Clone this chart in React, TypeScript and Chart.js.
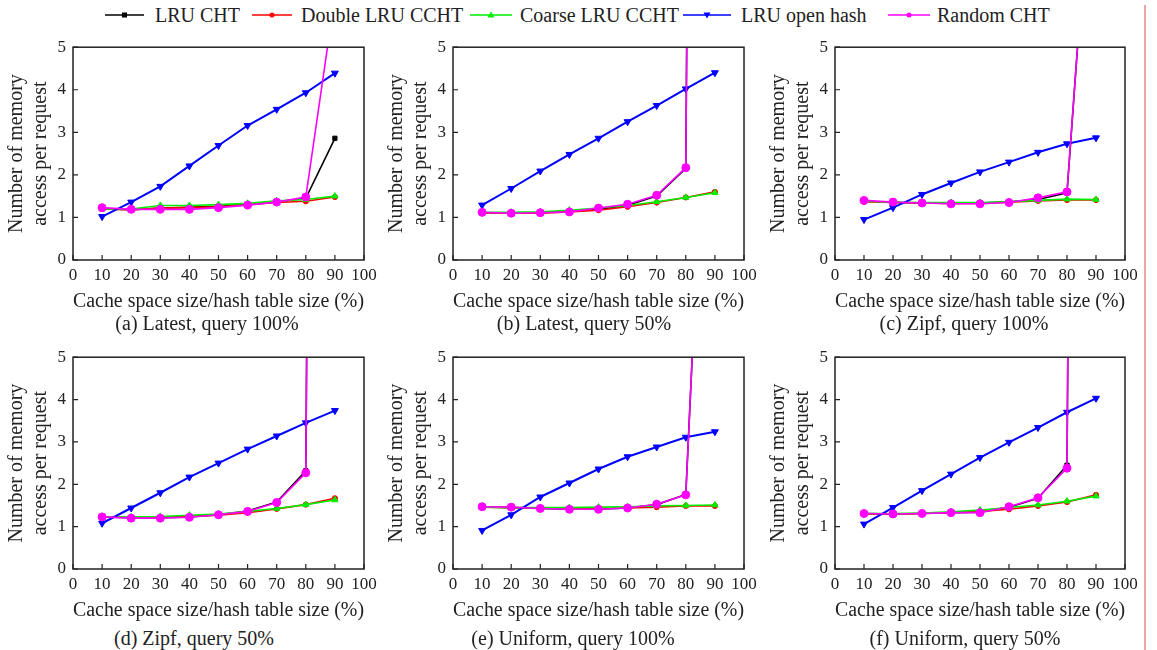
import React, { useEffect, useRef } from 'react';
import { Chart, registerables } from 'chart.js';

Chart.register(...registerables);

// ---------- data ----------
const xValues = [10, 20, 30, 40, 50, 60, 70, 80, 90];
const seriesNames = ['LRU CHT', 'Double LRU CCHT', 'Coarse LRU CCHT', 'LRU open hash', 'Random CHT'];

const aLruCht = [1.2, 1.18, 1.22, 1.24, 1.26, 1.3, 1.37, 1.45, 2.86];
const aDoubleLru = [1.2, 1.18, 1.22, 1.23, 1.25, 1.3, 1.35, 1.38, 1.48];
const aCoarseLru = [1.2, 1.2, 1.28, 1.28, 1.3, 1.33, 1.39, 1.42, 1.5];
const aOpenHash = [1.02, 1.36, 1.73, 2.21, 2.69, 3.16, 3.54, 3.93, 4.39];
const aRandomCht = [1.23, 1.19, 1.19, 1.19, 1.23, 1.29, 1.36, 1.48, 6.2];

const bLruCht = [1.11, 1.1, 1.11, 1.14, 1.19, 1.29, 1.5, 2.15, 95];
const bDoubleLru = [1.1, 1.1, 1.1, 1.13, 1.17, 1.25, 1.35, 1.47, 1.6];
const bCoarseLru = [1.12, 1.12, 1.13, 1.17, 1.22, 1.28, 1.37, 1.47, 1.58];
const bOpenHash = [1.29, 1.68, 2.09, 2.48, 2.86, 3.25, 3.63, 4.02, 4.4];
const bRandomCht = [1.12, 1.1, 1.11, 1.13, 1.22, 1.31, 1.52, 2.17, 95];

const cLruCht = [1.38, 1.35, 1.34, 1.33, 1.34, 1.37, 1.42, 1.58, 11];
const cDoubleLru = [1.37, 1.35, 1.34, 1.33, 1.33, 1.36, 1.39, 1.41, 1.41];
const cCoarseLru = [1.38, 1.36, 1.35, 1.35, 1.35, 1.37, 1.4, 1.43, 1.42];
const cOpenHash = [0.95, 1.23, 1.54, 1.81, 2.07, 2.3, 2.53, 2.73, 2.87];
const cRandomCht = [1.4, 1.36, 1.34, 1.32, 1.32, 1.35, 1.46, 1.6, 11];

const dLruCht = [1.23, 1.21, 1.21, 1.23, 1.28, 1.37, 1.58, 2.32, 95];
const dDoubleLru = [1.22, 1.22, 1.22, 1.24, 1.27, 1.33, 1.42, 1.52, 1.67];
const dCoarseLru = [1.22, 1.23, 1.24, 1.27, 1.3, 1.36, 1.43, 1.52, 1.63];
const dOpenHash = [1.08, 1.44, 1.8, 2.17, 2.5, 2.83, 3.14, 3.45, 3.74];
const dRandomCht = [1.23, 1.2, 1.2, 1.22, 1.28, 1.36, 1.57, 2.27, 95];

const eLruCht = [1.47, 1.45, 1.43, 1.41, 1.41, 1.44, 1.52, 1.76, 16.5];
const eDoubleLru = [1.46, 1.45, 1.44, 1.43, 1.43, 1.44, 1.46, 1.49, 1.49];
const eCoarseLru = [1.46, 1.45, 1.45, 1.45, 1.46, 1.47, 1.49, 1.5, 1.51];
const eOpenHash = [0.91, 1.28, 1.7, 2.03, 2.36, 2.65, 2.88, 3.11, 3.24];
const eRandomCht = [1.47, 1.46, 1.43, 1.41, 1.41, 1.44, 1.53, 1.75, 16.5];

const fLruCht = [1.31, 1.3, 1.31, 1.33, 1.34, 1.46, 1.67, 2.45, 95];
const fDoubleLru = [1.3, 1.3, 1.31, 1.33, 1.36, 1.41, 1.49, 1.58, 1.75];
const fCoarseLru = [1.31, 1.31, 1.32, 1.35, 1.39, 1.45, 1.51, 1.6, 1.72];
const fOpenHash = [1.06, 1.45, 1.85, 2.24, 2.63, 2.99, 3.34, 3.7, 4.03];
const fRandomCht = [1.31, 1.3, 1.31, 1.33, 1.33, 1.47, 1.68, 2.38, 95];

const captions = [
  '(a) Latest, query 100%',
  '(b) Latest, query 50%',
  '(c) Zipf, query 100%',
  '(d) Zipf, query 50%',
  '(e) Uniform, query 100%',
  '(f) Uniform, query 50%',
];
const xAxisTitle = 'Cache space size/hash table size (%)';
const yAxisTitle = ['Number of memory', 'access per request'];

// ---------- styles / layout ----------
const FONT = "'Liberation Serif', 'Times New Roman', serif";
const TEXT = '#222';

const seriesStyles = [
  { color: '#000000', point: 'rect', radius: 3, rotation: 0, width: 1.6, order: 5 },
  { color: '#ff0000', point: 'circle', radius: 2.6, rotation: 0, width: 1.6, order: 4 },
  { color: '#00ee00', point: 'triangle', radius: 3.6, rotation: 0, width: 1.6, order: 3 },
  { color: '#0000ff', point: 'triangle', radius: 4, rotation: 180, width: 2, order: 2 },
  { color: '#ff00ff', point: 'circle', radius: 4, rotation: 0, width: 1.6, order: 1 },
];

const panels = [
  { series: [aLruCht, aDoubleLru, aCoarseLru, aOpenHash, aRandomCht], L: 73, T: 44, R: 364, B: 260, cx: 207, cy: 323 },
  { series: [bLruCht, bDoubleLru, bCoarseLru, bOpenHash, bRandomCht], L: 453, T: 44, R: 744, B: 260, cx: 584, cy: 323 },
  { series: [cLruCht, cDoubleLru, cCoarseLru, cOpenHash, cRandomCht], L: 835, T: 44, R: 1125, B: 260, cx: 964, cy: 323 },
  { series: [dLruCht, dDoubleLru, dCoarseLru, dOpenHash, dRandomCht], L: 73, T: 354, R: 364, B: 569, cx: 194, cy: 638 },
  { series: [eLruCht, eDoubleLru, eCoarseLru, eOpenHash, eRandomCht], L: 453, T: 354, R: 744, B: 569, cx: 573, cy: 638 },
  { series: [fLruCht, fDoubleLru, fCoarseLru, fOpenHash, fRandomCht], L: 835, T: 354, R: 1125, B: 569, cx: 965, cy: 638 },
];

const legendLayout = [
  { x1: 105, x2: 144, tx: 155 },
  { x1: 252, x2: 292, tx: 301 },
  { x1: 470, x2: 512, tx: 520 },
  { x1: 683, x2: 731, tx: 741 },
  { x1: 888, x2: 930, tx: 937 },
];

const Y_W = 72;
const PAD_T = 14;
const PAD_R = 24;
const X_H = 56;

const framePlugin = {
  id: 'frame',
  afterDraw(chart: any) {
    const { ctx, chartArea } = chart;
    const { left, top, right, bottom } = chartArea;
    ctx.save();
    ctx.strokeStyle = '#222';
    ctx.lineWidth = 1.5;
    ctx.strokeRect(left, top, right - left, bottom - top);
    ctx.beginPath();
    const xs = chart.scales.x;
    xs.ticks.forEach((t: any) => {
      const px = xs.getPixelForValue(t.value);
      ctx.moveTo(px, bottom);
      ctx.lineTo(px, bottom - 5);
    });
    const ys = chart.scales.y;
    ys.ticks.forEach((t: any) => {
      const py = ys.getPixelForValue(t.value);
      ctx.moveTo(left, py);
      ctx.lineTo(left + 5, py);
    });
    ctx.lineWidth = 1.2;
    ctx.stroke();
    ctx.restore();
  },
};

function Panel({ p }: { p: any }) {
  const ref = useRef<HTMLCanvasElement>(null);
  const w = p.R - p.L + Y_W + PAD_R;
  const h = p.B - p.T + PAD_T + X_H;
  useEffect(() => {
    const chart = new Chart(ref.current as HTMLCanvasElement, {
      type: 'line',
      data: {
        datasets: seriesNames.map((name, i) => ({
          label: name,
          data: xValues.map((x, j) => ({ x, y: p.series[i][j] })),
          borderColor: seriesStyles[i].color,
          backgroundColor: seriesStyles[i].color,
          borderWidth: seriesStyles[i].width,
          pointStyle: seriesStyles[i].point as any,
          pointRadius: seriesStyles[i].radius,
          pointRotation: seriesStyles[i].rotation,
          pointBorderWidth: 1,
          tension: 0,
          order: seriesStyles[i].order,
        })),
      },
      options: {
        animation: false,
        responsive: false,
        events: [],
        layout: { padding: { top: PAD_T, right: PAD_R, left: 0, bottom: 0 } },
        plugins: { legend: { display: false }, tooltip: { enabled: false } },
        scales: {
          x: {
            type: 'linear',
            min: 0,
            max: 100,
            grid: { display: false, drawTicks: false },
            border: { display: false },
            ticks: {
              stepSize: 10,
              autoSkip: false,
              maxRotation: 0,
              padding: 5,
              color: TEXT,
              font: { family: FONT, size: 17 },
            },
            title: {
              display: true,
              text: xAxisTitle,
              color: TEXT,
              font: { family: FONT, size: 20 },
              padding: { top: 0, bottom: 2 },
            },
            afterFit: (s: any) => {
              s.height = X_H;
            },
          },
          y: {
            type: 'linear',
            min: 0,
            max: 5,
            grid: { display: false, drawTicks: false },
            border: { display: false },
            ticks: {
              stepSize: 1,
              padding: 7,
              color: TEXT,
              font: { family: FONT, size: 17 },
            },
            title: {
              display: true,
              text: yAxisTitle,
              color: TEXT,
              font: { family: FONT, size: 20 },
              padding: { top: 4, bottom: 0 },
            },
            afterFit: (s: any) => {
              s.width = Y_W;
            },
          },
        },
      },
      plugins: [framePlugin],
    } as any);
    return () => chart.destroy();
  }, []);
  return (
    <canvas
      ref={ref}
      width={w}
      height={h}
      style={{ position: 'absolute', left: p.L - Y_W, top: p.T - PAD_T, width: w, height: h }}
    />
  );
}

function LegendMarker({ i, cx, cy }: { i: number; cx: number; cy: number }) {
  const s = seriesStyles[i];
  if (s.point === 'rect') return <rect x={cx - 2.5} y={cy - 2.5} width={5} height={5} fill={s.color} />;
  if (s.point === 'circle') return <circle cx={cx} cy={cy} r={2.5} fill={s.color} />;
  if (s.rotation === 180)
    return <polygon points={`${cx - 3.5},${cy - 2.5} ${cx + 3.5},${cy - 2.5} ${cx},${cy + 3.5}`} fill={s.color} />;
  return <polygon points={`${cx - 3.5},${cy + 2.5} ${cx + 3.5},${cy + 2.5} ${cx},${cy - 3.5}`} fill={s.color} />;
}

export default function App() {
  return (
    <div
      style={{
        position: 'fixed',
        left: 0,
        top: 0,
        width: 1157,
        height: 650,
        background: '#fff',
        fontFamily: FONT,
        color: TEXT,
        overflow: 'hidden',
      }}
    >
      <svg width={1157} height={30} style={{ position: 'absolute', left: 0, top: 0 }}>
        {legendLayout.map((l, i) => (
          <g key={i}>
            <line x1={l.x1} x2={l.x2} y1={15} y2={15} stroke={seriesStyles[i].color} strokeWidth={1.5} />
            <LegendMarker i={i} cx={(l.x1 + l.x2) / 2} cy={15} />
          </g>
        ))}
      </svg>
      {legendLayout.map((l, i) => (
        <div
          key={i}
          style={{ position: 'absolute', left: l.tx, top: 3, fontSize: 20, lineHeight: '24px', whiteSpace: 'nowrap' }}
        >
          {seriesNames[i]}
        </div>
      ))}
      {panels.map((p, i) => (
        <Panel key={i} p={p} />
      ))}
      {panels.map((p, i) => (
        <div
          key={'c' + i}
          style={{
            position: 'absolute',
            left: p.cx,
            top: p.cy - 12,
            transform: 'translateX(-50%)',
            fontSize: 20,
            lineHeight: '24px',
            whiteSpace: 'nowrap',
          }}
        >
          {captions[i]}
        </div>
      ))}
      <div style={{ position: 'absolute', left: 1144, top: 5, width: 2, height: 645, background: '#f3a3a3' }} />
    </div>
  );
}
